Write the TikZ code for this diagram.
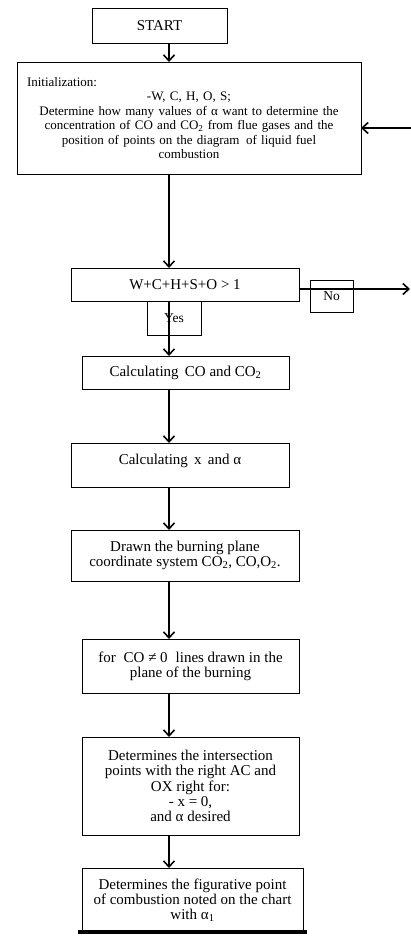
\documentclass[tikz,border=0pt]{standalone}
\usepackage{fontspec}
\setmainfont{Liberation Serif}
\usetikzlibrary{arrows.meta,positioning}

\begin{document}
\begin{tikzpicture}[x=1pt,y=1pt]
\tikzstyle{box}=[rectangle, draw=black, line width=0.9pt, inner sep=2pt, outer sep=0pt,
	align=center, font=\fontsize{15}{15.2}\selectfont
]
\tikzstyle{flow}=[line width=2pt, -{Straight Barb[length=6pt,width=11pt,line width=1.6pt]}]
\useasboundingbox (0,0) rectangle (411,-937);
\coordinate (axis) at (169,0);
\node[box,minimum width=135pt,minimum height=35pt] (start) at (159.5,-25.5) {START};
\node[box,below=19pt of start,xshift=29.5pt,minimum width=344pt,minimum height=112pt,
	text width=336pt,font=\fontsize{13}{14.5}\selectfont] (init) {\makebox[\linewidth][l]{\hspace*{6pt}Initialization:}\\
	-W, C, H, O, S;\\
	Determine how many values of α want to determine the\\
	concentration of CO and CO\textsubscript{2} from flue gases and the\\
	position of points on the diagram\, of liquid fuel\\
	combustion};
\node[box,below=94pt of init,xshift=-4pt,minimum width=228pt,minimum height=33pt] (cond) {W+C+H+S+O > 1};
\node[box,below=0pt of cond,xshift=-11pt,minimum width=54pt,minimum height=34pt,font=\fontsize{13.5}{14}\selectfont] (yes) {Yes};
\node[box,right=11pt of cond,yshift=-11.5pt,minimum width=43pt,minimum height=32pt,font=\fontsize{13.5}{14}\selectfont] (no) {No};
\node[box,below=55pt of cond,xshift=0.5pt,minimum width=207pt,minimum height=33pt] (calc1) {Calculating\, CO and CO\textsubscript{2}};
\node[box,below=54pt of calc1,xshift=-5.5pt,minimum width=218pt,minimum height=44pt,text depth=12pt] (calc2) {Calculating\, x\, and α};
\node[box,below=43pt of calc2,xshift=5pt,minimum width=228pt,minimum height=51pt] (drawn) {Drawn the burning plane\\
	coordinate system CO\textsubscript{2}, CO,O\textsubscript{2}.};
\node[box,below=58pt of drawn,xshift=5.5pt,minimum width=217pt,minimum height=54pt] (forco) {for\; CO ≠ 0\; lines drawn in the\\
	plane of the burning};
\node[box,below=44pt of forco,minimum width=217pt,minimum height=98pt] (inters) {Determines the intersection\\
	points with the right AC and\\
	OX right for:\\
	- x = 0,\\
	and α desired};
\node[box,below=33pt of inters,xshift=2pt,minimum width=221pt,minimum height=64pt] (final) {Determines the figurative point\\
	of combustion noted on the chart\\
	with α\textsubscript{1}};
\coordinate (inR) at (411,-128);
\coordinate (outR) at (410,-289);
\draw[flow] (start.south -| axis) -- (init.north -| axis);
\draw[flow] (init.south -| axis) -- (cond.north -| axis);
\draw[flow] (cond.south -| axis) -- (calc1.north -| axis);
\draw[flow] (calc1.south -| axis) -- (calc2.north -| axis);
\draw[flow] (calc2.south -| axis) -- (drawn.north -| axis);
\draw[flow] (drawn.south -| axis) -- (forco.north -| axis);
\draw[flow] (forco.south -| axis) -- (inters.north -| axis);
\draw[flow] (inters.south -| axis) -- (final.north -| axis);
\draw[flow] (inR) -- (inR -| init.east);
\draw[flow] (outR -| cond.east) -- (outR);
\draw[line width=4pt] ([xshift=-4pt]final.south west) -- ([xshift=4pt]final.south east);

\end{tikzpicture}
\end{document}
